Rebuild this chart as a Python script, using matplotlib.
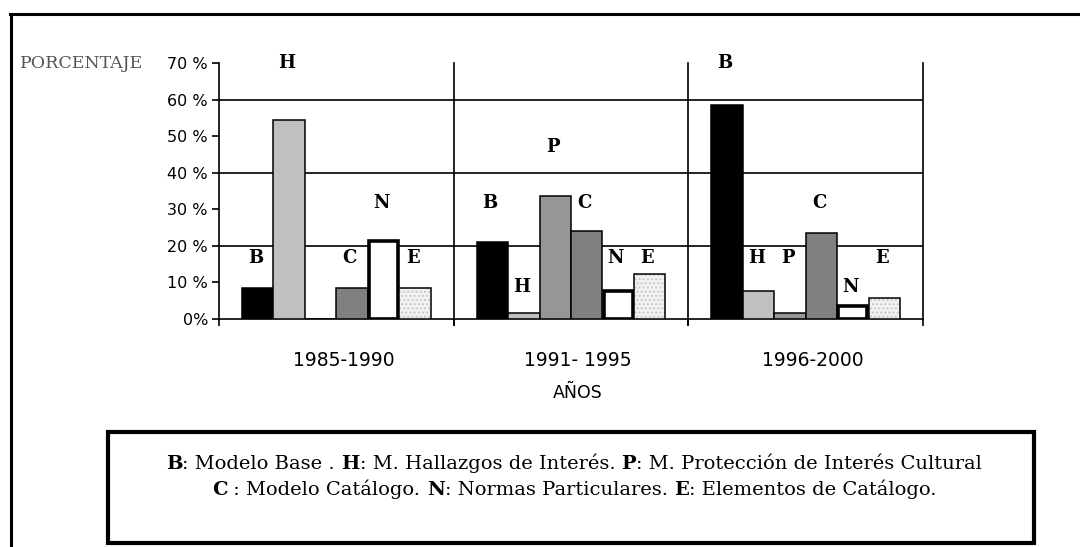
import numpy as np
import matplotlib
matplotlib.use('Agg')
import matplotlib.pyplot as plt
from matplotlib.patches import Rectangle
from matplotlib.offsetbox import TextArea, HPacker, VPacker, AnnotationBbox

# data (percent)
periods = ['1985-1990', '1991- 1995', '1996-2000']
letters = ['B', 'H', 'P', 'C', 'N', 'E']
B = [8.5, 21.0, 58.5]
H = [54.5, 1.6, 7.6]
P = [0.0, 33.5, 1.6]
C = [8.5, 24.0, 23.5]
N = [21.3, 7.6, 3.5]
E = [8.5, 12.3, 5.7]
yticks = [0, 10, 20, 30, 40, 50, 60, 70]

# where the letters are written above the bars (percent height), None = not shown
label_y = {
    'B': [16.7, 31.7, 70.0],
    'H': [70.0, 8.7, 16.7],
    'P': [None, 47.0, 16.7],
    'C': [16.7, 31.7, 31.7],
    'N': [31.7, 16.7, 8.7],
    'E': [16.7, 16.7, 16.7],
}

series = [B, H, P, C, N, E]
colors = ['#000000', '#c0c0c0', '#969696', '#808080', '#ffffff', '#f2f2f2']

fig = plt.figure(figsize=(10.8, 5.47), dpi=100)
ax = fig.add_axes([219 / 1080, 1 - 319 / 547, 704 / 1080, 256 / 547])

x = np.arange(len(periods))
w = 0.134
for i, (vals, col) in enumerate(zip(series, colors)):
    xs = x + (i - 2.5) * w
    if letters[i] == 'E':
        ax.bar(xs, vals, w, color=col, hatch='....', edgecolor='#c8c8c8', linewidth=0, zorder=3)
        ax.bar(xs, vals, w, fill=False, edgecolor='black', linewidth=1.1, zorder=3)
    elif letters[i] == 'N':
        ax.bar(xs, vals, w * 0.93, color=col, edgecolor='black', linewidth=2.6, zorder=3)
    else:
        ax.bar(xs, vals, w, color=col, edgecolor='black', linewidth=1.1, zorder=3)
    for j, ly in enumerate(label_y[letters[i]]):
        if ly is None:
            continue
        ax.text(xs[j] - 0.01, ly, letters[i], ha='center', va='center',
                fontsize=13, fontweight='bold', family='DejaVu Serif', clip_on=False)

for yg in [20, 40, 60]:
    ax.axhline(yg, color='black', lw=1.2, zorder=1)
for xd in [0.5, 1.5]:
    ax.axvline(xd, ymin=-0.025, ymax=1, color='black', lw=1.2, clip_on=False, zorder=1)

ax.set_xlim(-0.5, 2.5)
ax.set_ylim(0, 70)
ax.set_yticks(yticks)
ax.set_yticklabels([f'{v} %' if v else '0%' for v in yticks], fontsize=11.5, family='DejaVu Sans')
ax.set_xticks(x + 0.03)
ax.set_xticklabels(periods, fontsize=13.5, family='DejaVu Sans')
ax.tick_params(axis='x', length=0, pad=23)
ax.tick_params(axis='y', length=5, width=1.2, pad=3)
ax.set_xticks([-0.5, 0.5, 1.5, 2.5], minor=True)
ax.tick_params(axis='x', which='minor', length=5, width=1.2)
ax.spines['top'].set_visible(False)
for s in ['left', 'right', 'bottom']:
    ax.spines[s].set_linewidth(1.2)

fig.text(20 / 1080, 1 - 63 / 547, 'PORCENTAJE', fontsize=12.5, family='DejaVu Serif',
         color='#555555', va='center', ha='left')
fig.text(578 / 1080, 1 - 393 / 547, 'AÑOS', fontsize=12.5, family='DejaVu Sans',
         ha='center', va='center')

# outer frame (top and left edges)
fig.add_artist(plt.Line2D([10 / 1080, 1], [1 - 14 / 547] * 2, color='black', lw=2.2))
fig.add_artist(plt.Line2D([11 / 1080] * 2, [0, 1 - 14 / 547], color='black', lw=2.2))

# legend box
fig.add_artist(Rectangle((108 / 1080, 1 - 543 / 547), 926 / 1080, 111 / 547,
                         transform=fig.transFigure, fill=False, edgecolor='black', lw=3))


def legend_line(parts):
    boxes = []
    for txt, bold in parts:
        boxes.append(TextArea(txt, textprops=dict(fontsize=14, family='DejaVu Serif',
                                                   fontweight='bold' if bold else 'normal')))
    return HPacker(children=boxes, align='baseline', pad=0, sep=0)


line1 = legend_line([('B', True), (': Modelo Base . ', False), ('H', True),
                     (': M. Hallazgos de Interés. ', False), ('P', True),
                     (': M. Protección de Interés Cultural', False)])
line2 = legend_line([('C', True), (' : Modelo Catálogo. ', False), ('N', True),
                     (': Normas Particulares. ', False), ('E', True),
                     (': Elementos de Catálogo.', False)])
legend_text = VPacker(children=[line1, line2], align='center', pad=0, sep=5)
ab = AnnotationBbox(legend_text, (574 / 1080, 1 - 476 / 547), xycoords='figure fraction',
                    frameon=False, box_alignment=(0.5, 0.5))
fig.add_artist(ab)

fig.savefig('out.png', dpi=100)
